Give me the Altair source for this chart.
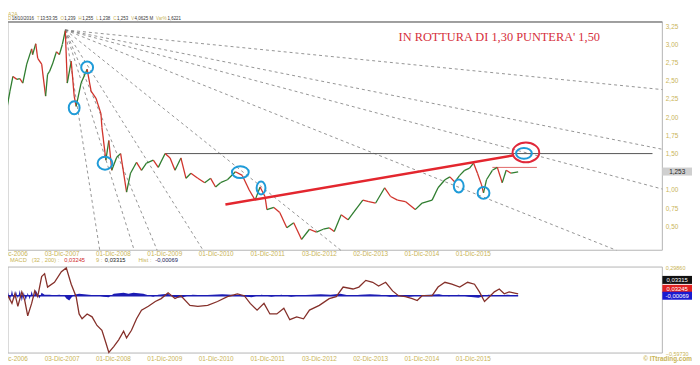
import altair as alt
import pandas as pd
from datetime import date, timedelta

# ---------------- data ----------------
price_dates = ["2006-10-13","2006-11-10","2006-12-01","2006-12-22","2007-01-19","2007-02-09","2007-03-02",
 "2007-03-30","2007-05-04","2007-05-11","2007-06-02","2007-06-16","2007-07-14","2007-08-11","2007-08-25",
 "2007-09-08","2007-09-29","2007-10-27","2007-11-17","2007-12-08","2007-12-29","2008-01-12","2008-02-09",
 "2008-03-01","2008-03-15","2008-04-19","2008-06-01","2008-06-29","2008-08-03","2008-09-07","2008-09-14",
 "2008-10-12","2008-11-02","2008-11-23","2008-12-28","2009-01-25","2009-03-08","2009-04-05","2009-05-18",
 "2009-06-22","2009-07-27","2009-09-14","2009-10-19","2009-12-07","2010-01-11","2010-02-15","2010-03-29",
 "2010-05-04","2010-06-08","2010-07-27","2010-09-14","2010-10-26","2010-11-30","2011-01-04","2011-02-22",
 "2011-04-20","2011-06-08","2011-07-27","2011-09-07","2011-10-12","2011-11-16","2011-11-30","2012-01-18",
 "2012-02-29","2012-04-19","2012-06-07","2012-08-02","2012-09-27","2012-11-15","2013-01-03","2013-02-14",
 "2013-03-22","2013-05-10","2013-06-28","2013-08-09","2013-10-11","2013-11-22","2014-01-10","2014-03-15",
 "2014-04-26","2014-06-14","2014-08-09","2014-10-18","2014-12-06","2015-02-15","2015-03-29","2015-05-17",
 "2015-06-21","2015-07-26","2015-08-30","2015-10-04","2015-11-08","2015-12-06","2016-01-03","2016-02-01",
 "2016-02-15","2016-03-07","2016-04-18","2016-05-23","2016-06-27","2016-07-25","2016-08-29","2016-10-18"]
price_vals = [2.14,2.13,2.36,2.56,2.52,2.53,2.47,
 2.73,2.94,2.86,3.01,2.81,2.73,2.29,2.59,
 2.63,2.73,2.90,2.86,3.00,3.19,2.47,2.77,
 2.29,2.15,2.47,2.66,2.36,2.26,2.05,1.86,
 1.41,1.68,1.27,1.45,1.50,0.97,1.23,1.38,
 1.27,1.37,1.41,1.31,1.50,1.44,1.27,1.44,
 1.16,1.23,1.16,1.10,1.16,1.04,1.10,1.14,
 1.25,1.20,1.00,0.86,1.04,0.91,0.73,0.76,
 0.69,0.48,0.55,0.32,0.46,0.42,0.46,0.48,
 0.43,0.66,0.59,0.70,0.86,0.84,0.82,1.03,
 0.91,0.86,0.84,0.73,0.82,0.86,1.03,1.14,
 1.18,1.11,1.20,1.27,1.30,1.37,1.23,1.07,
 0.96,1.14,1.27,1.31,1.10,1.27,1.23,1.25]

last_close = 1.253

# Gann fan from the 2007 top
fan_origin_date = "2007-12-29"
fan_origin_val = 3.20
fan_unit_slope = 0.001548          # price per day of the 1x1 line
fan_ratios = [8, 4, 3, 2, 1, 1/2, 1/3, 1/4, 1/8]

# annotation lines
trend_dates = ["2011-02-08", "2016-09-19"]
trend_vals = [0.80, 1.476]
level_dates = ["2009-12-07", "2019-05-30"]
level_val = 1.50
res_dates = ["2016-04-18", "2017-02-28"]
res_val = 1.31

# circled points
circle_dates = ["2008-03-01","2008-06-01","2008-10-06","2011-05-25","2011-10-19","2015-08-23","2016-02-15","2016-11-28"]
circle_vals = [2.13, 2.685, 1.367, 1.245, 1.027, 1.054, 0.959, 1.503]
red_circle_date = "2016-12-12"
red_circle_val = 1.516

# MACD (32,200) line
macd_dates = ["2006-11-17","2006-12-15","2007-01-05","2007-01-26","2007-02-23","2007-03-16","2007-04-06",
 "2007-05-04","2007-05-26","2007-06-16","2007-07-14","2007-08-04","2007-08-25","2007-10-13","2007-12-01",
 "2008-01-05","2008-02-09","2008-03-15","2008-04-05","2008-04-26","2008-06-01","2008-07-06","2008-08-10",
 "2008-09-14","2008-10-12","2008-11-02","2008-12-07","2009-01-11","2009-02-15","2009-03-08","2009-04-12",
 "2009-05-18","2009-06-22","2009-08-10","2009-09-28","2009-11-09","2009-12-28","2010-02-15","2010-03-29",
 "2010-06-01","2010-07-27","2010-10-05","2010-12-14","2011-02-22","2011-05-04","2011-06-22","2011-08-03",
 "2011-09-21","2011-11-09","2011-12-21","2012-02-08","2012-03-29","2012-05-10","2012-06-28","2012-08-16",
 "2012-09-27","2012-12-06","2013-02-14","2013-04-05","2013-05-24","2013-08-02","2013-09-13","2013-11-01",
 "2013-12-20","2014-01-31","2014-03-22","2014-05-10","2014-06-21","2014-08-09","2014-09-27","2014-11-01",
 "2014-12-06","2015-02-15","2015-03-29","2015-05-17","2015-07-05","2015-08-30","2015-10-25","2015-12-13",
 "2016-01-17","2016-02-22","2016-03-28","2016-05-02","2016-06-06","2016-07-11","2016-08-15","2016-10-18"]
macd_vals = [0.0,-0.08,0.02,-0.11,0.04,-0.05,-0.21,
 -0.08,0.05,-0.01,0.20,0.23,0.09,0.14,0.25,
 0.29,0.12,-0.01,-0.19,-0.24,-0.19,-0.22,-0.31,
 -0.36,-0.49,-0.59,-0.53,-0.46,-0.37,-0.44,-0.36,
 -0.24,-0.15,-0.11,-0.06,-0.03,0.03,-0.03,0.0,
 -0.10,-0.11,-0.10,-0.06,-0.01,0.02,0.0,-0.08,
 -0.15,-0.08,-0.19,-0.19,-0.13,-0.25,-0.22,-0.24,
 -0.15,-0.10,-0.03,-0.01,0.09,0.07,0.09,0.16,
 0.14,0.10,0.14,0.05,0.0,-0.01,-0.03,-0.05,
 0.0,0.0,0.09,0.14,0.12,0.09,0.14,0.12,
 0.04,-0.06,-0.01,0.04,0.07,0.02,0.04,0.02]

# MACD histogram
hist_dates = ["2006-11-17","2006-12-01","2006-12-15","2006-12-29","2007-01-12","2007-01-26","2007-02-09",
 "2007-02-23","2007-03-09","2007-03-23","2007-04-06","2007-04-20","2007-05-04","2007-05-18","2007-06-01",
 "2007-06-15","2007-06-29","2007-07-13","2007-08-04","2007-09-08","2007-10-13","2007-11-17","2007-12-22",
 "2008-01-05","2008-01-26","2008-02-09","2008-03-01","2008-04-05","2008-05-10","2008-06-14","2008-07-19",
 "2008-08-23","2008-09-27","2008-11-01","2008-12-07","2009-01-11","2009-02-15","2009-03-22","2009-04-26",
 "2009-05-31","2009-07-05","2009-08-09","2009-09-13","2009-10-18","2009-11-22","2009-12-27","2010-01-31",
 "2010-03-07","2010-04-11","2010-05-16","2010-06-20","2010-08-29","2010-11-07","2011-01-16","2011-03-27",
 "2011-06-05","2011-08-14","2011-10-23","2012-01-01","2012-03-11","2012-05-20","2012-07-29","2012-10-07",
 "2012-12-16","2013-02-24","2013-05-05","2013-07-14","2013-09-22","2013-12-01","2014-02-09","2014-04-20",
 "2014-06-29","2014-09-07","2014-11-16","2015-01-25","2015-04-05","2015-06-14","2015-08-23","2015-11-01",
 "2016-01-10","2016-03-20","2016-05-29","2016-08-07","2016-10-18"]
hist_vals = [0.04,-0.05,0.06,-0.04,0.05,-0.03,0.06,
 -0.06,0.04,-0.05,0.03,-0.04,0.05,-0.03,0.06,
 0.02,-0.03,0.03,0.01,0.01,0.005,0.01,0.0,
 -0.03,-0.05,-0.02,0.01,0.02,0.015,0.01,0.005,
 0.0,-0.01,-0.015,0.02,0.025,0.03,0.02,0.03,
 0.025,0.02,0.005,-0.01,0.01,0.015,0.02,-0.01,
 -0.02,-0.015,0.0,0.01,0.005,0.01,0.015,0.01,
 -0.005,-0.015,0.01,-0.01,0.01,-0.01,0.005,0.01,
 0.015,0.01,0.02,0.0,0.01,0.015,0.01,-0.01,
 -0.005,-0.01,0.005,0.01,0.015,-0.005,0.01,-0.01,
 -0.02,0.01,0.005,0.01,-0.001]

macd_last, signal_last, hist_last = 0.03245, 0.03315, -0.00069
macd_top, macd_bottom = 0.29860, -0.59730

x_tick_dates = [(2006,12,1),(2007,12,3),(2008,12,1),(2009,12,1),(2010,12,1),(2011,12,1),
                (2012,12,3),(2013,12,2),(2014,12,1),(2015,12,1)]
y_ticks = [0.50, 0.75, 1.00, 1.50, 1.75, 2.00, 2.25, 2.50, 2.75, 3.00, 3.25]

header_pairs = [("D","18/10/2016"),("T","13:53:35"),("O","1,239"),("H","1,255"),
                ("L","1,238"),("C","1,253"),("V","4,0625 M"),("Var%","1,6221")]

# ---------------- layout / style ----------------
W = 662
H = 335
H_MAIN = 231
MACD_TOP = 248
X_START, X_END = date(2006, 11, 17), date(2019, 8, 8)
Y_MIN, Y_MAX = 0.171, 3.31
YEL = "#c9b456"
FONT = "Liberation Sans"

tick_vals = [alt.DateTime(year=y, month=m, date=d, utc=True) for y, m, d in x_tick_dates]
lab_expr = "utcFormat(datum.value, '%d') + '-Dic-' + utcFormat(datum.value, '%Y')"
xscale = alt.Scale(type="utc",
                   domain=[alt.DateTime(year=X_START.year, month=X_START.month, date=X_START.day, utc=True),
                           alt.DateTime(year=X_END.year, month=X_END.month, date=X_END.day, utc=True)])
x_main_axis = alt.Axis(values=tick_vals, labelExpr=lab_expr,
                       orient="bottom", offset=H_MAIN - H, ticks=False, tickSize=0, domain=False, grid=False,
                       labelColor=YEL, labelFontSize=6.5, labelFont=FONT, labelPadding=0, labelOverlap=False,
                       labelFlush=False, title=None)
x_macd_axis = alt.Axis(values=tick_vals, labelExpr=lab_expr,
                       orient="bottom", ticks=False, tickSize=0, domain=False, grid=False,
                       labelColor=YEL, labelFontSize=6.5, labelFont=FONT, labelPadding=3, labelOverlap=False,
                       labelFlush=False, title=None)
yscale = alt.Scale(domain=[Y_MIN, Y_MAX], range=[H_MAIN, 0], zero=False, nice=False)
y_main_axis = alt.Axis(orient="right", values=y_ticks,
                       labelExpr="replace(format(datum.value, '.2f'), '.', ',')",
                       ticks=False, tickSize=0, domain=False, grid=False, labelColor=YEL,
                       labelFontSize=6.5, labelFont=FONT, labelPadding=3, labelOverlap=False, title=None)
mscale = alt.Scale(domain=[macd_bottom, macd_top], range=[H, MACD_TOP], zero=False, nice=False)
y_macd_axis = alt.Axis(orient="right", values=[macd_top, macd_bottom],
                       labelExpr="replace(format(datum.value, '.5f'), '.', ',')",
                       ticks=False, tickSize=0, domain=False, grid=False, labelColor=YEL,
                       labelFontSize=5.5, labelFont=FONT, labelPadding=3, labelOverlap=False, title=None)

dummy = pd.DataFrame({"a": [0]})


def txt(text, x, y, color, size=7, align="left", font=FONT, weight="normal"):
    return alt.Chart(dummy).mark_text(text=text, align=align, baseline="middle", color=color,
                                      fontSize=size, font=font, fontWeight=weight).encode(
        x=alt.value(x), y=alt.value(y))


def frame(y0, y1, color="#b4b4b4"):
    return alt.Chart(dummy).mark_rect(fillOpacity=0, stroke=color, strokeWidth=1).encode(
        x=alt.value(0), x2=alt.value(W), y=alt.value(y0), y2=alt.value(y1))


# approximate Arial advance widths (em) used to lay out the header line
CW = {**{c: 0.556 for c in "0123456789"}, "/": 0.278, ":": 0.278, ",": 0.278, " ": 0.278,
      "M": 0.833, "D": 0.722, "T": 0.611, "O": 0.778, "H": 0.722, "L": 0.556, "C": 0.722,
      "V": 0.667, "a": 0.556, "r": 0.333, "%": 0.889}
text_w = lambda s, fs: sum(CW.get(c, 0.6) for c in s) * fs

# ---------------- main panel ----------------
seg = pd.DataFrame({"d1": price_dates[:-1], "d2": price_dates[1:],
                    "v1": price_vals[:-1], "v2": price_vals[1:]})
seg["dir"] = ["up" if b >= a else "down" for a, b in zip(price_vals[:-1], price_vals[1:])]

o = date.fromisoformat(fan_origin_date)
days_right = (X_END - o).days
fan_rows = []
for r in fan_ratios:
    slope = r * fan_unit_slope
    d = int(min(days_right, (fan_origin_val - Y_MIN) / slope))
    fan_rows.append({"d1": fan_origin_date, "v1": fan_origin_val,
                     "d2": (o + timedelta(days=d)).isoformat(),
                     "v2": fan_origin_val - slope * d})
fan = pd.DataFrame(fan_rows)

X = lambda f: alt.X(f, type="temporal", scale=xscale, axis=x_main_axis)
Y = lambda f: alt.Y(f, type="quantitative", scale=yscale, axis=y_main_axis)

fan_layer = alt.Chart(fan).mark_rule(color="#7a7a7a", strokeWidth=0.8, strokeDash=[3, 3]).encode(
    x=X("d1"), x2="d2", y=Y("v1"), y2="v2")

level = alt.Chart(pd.DataFrame({"d1": [level_dates[0]], "d2": [level_dates[1]], "v": [level_val]})).mark_rule(
    color="#555555", strokeWidth=1).encode(x=X("d1"), x2="d2", y=Y("v"))

res = alt.Chart(pd.DataFrame({"d1": [res_dates[0]], "d2": [res_dates[1]], "v": [res_val]})).mark_rule(
    color="#d84040", strokeWidth=0.8).encode(x=X("d1"), x2="d2", y=Y("v"))

price = alt.Chart(seg).mark_rule(strokeWidth=1.3).encode(
    x=X("d1"), x2="d2", y=Y("v1"), y2="v2",
    color=alt.Color("dir:N", scale=alt.Scale(domain=["up", "down"], range=["#2f7d2f", "#d0342c"]), legend=None))

trend = alt.Chart(pd.DataFrame({"d1": [trend_dates[0]], "d2": [trend_dates[1]],
                                "v1": [trend_vals[0]], "v2": [trend_vals[1]]})).mark_rule(
    color="#e3262e", strokeWidth=2.5).encode(x=X("d1"), x2="d2", y=Y("v1"), y2="v2")

# ellipse sizes (px) for the hand-drawn circles
ell_w = [11, 12, 15, 17, 9, 10, 12, 16]
ell_h = [13, 12, 13, 12, 13, 13, 12, 11]


def ellipse_path(w, h):
    m = max(w, h)
    rx, ry = w / m, h / m
    return f"M{-rx:.3f},0A{rx:.3f},{ry:.3f} 0 1,0 {rx:.3f},0A{rx:.3f},{ry:.3f} 0 1,0 {-rx:.3f},0Z"


circ = pd.DataFrame({"date": circle_dates, "val": circle_vals,
                     "k": [f"e{i}" for i in range(len(circle_dates))],
                     "sz": [max(w, h) ** 2 for w, h in zip(ell_w, ell_h)]})
circles = alt.Chart(circ).mark_point(filled=False, strokeWidth=2, color="#1f9bd8", opacity=1).encode(
    x=X("date"), y=Y("val"),
    shape=alt.Shape("k:N", scale=alt.Scale(domain=list(circ["k"]),
                                           range=[ellipse_path(w, h) for w, h in zip(ell_w, ell_h)]), legend=None),
    size=alt.Size("sz:Q", scale=None))

red_circ = alt.Chart(pd.DataFrame({"date": [red_circle_date], "val": [red_circle_val]})).mark_point(
    filled=False, strokeWidth=2, color="#e0283a", opacity=1, shape=ellipse_path(27, 20), size=27 ** 2).encode(
    x=X("date"), y=Y("val"))

title = txt("IN ROTTURA DI 1,30 PUNTERA' 1,50", 497, 15, "#d6303c", size=12.5, align="center",
            font="Liberation Serif")

HF = 4.5
hdr = [txt("A2A", 0, -8.5, YEL, size=5.2)]
cx = 0.0
for p, v in header_pairs:
    hdr.append(txt(p, cx, -2.5, YEL, size=HF))
    cx += text_w(p, HF) + 0.5
    hdr.append(txt(v, cx, -2.5, "#333333", size=HF))
    cx += text_w(v, HF) + 3.0

box_path = "M-1,-0.27L1,-0.27L1,0.27L-1,0.27Z"
pbox = alt.Chart(dummy).mark_point(shape=box_path, size=900, filled=True, color="#cfcfcf", opacity=1).encode(
    x=alt.value(W + 15), y=alt.Y(datum=last_close, scale=yscale, axis=y_main_axis))
ptxt = alt.Chart(dummy).mark_text(text="1,253", fontSize=6.5, font=FONT, color="#222222").encode(
    x=alt.value(W + 15), y=alt.Y(datum=last_close, scale=yscale, axis=y_main_axis))

top_edge = alt.Chart(dummy).mark_rule(color="#8c8c8c", strokeWidth=1.5).encode(
    x=alt.value(0), x2=alt.value(W), y=alt.value(0))

main = alt.layer(frame(0, H_MAIN), top_edge, fan_layer, level, res, price, trend, circles, red_circ,
                 title, pbox, ptxt, *hdr)

# ---------------- MACD panel ----------------
XM = lambda f: alt.X(f, type="temporal", scale=xscale, axis=x_macd_axis)
YM = lambda f: alt.Y(f, type="quantitative", scale=mscale, axis=y_macd_axis)

hist = alt.Chart(pd.DataFrame({"date": hist_dates, "h": hist_vals})).mark_area(
    color="#1c1cb4", opacity=1).encode(x=XM("date"), y=YM("h"), y2=alt.Y2(datum=0))
zero = alt.Chart(pd.DataFrame({"d1": [hist_dates[0]], "d2": [hist_dates[-1]], "z": [0.0]})).mark_rule(
    color="#1c1cb4", strokeWidth=1.5).encode(x=XM("d1"), x2="d2", y=YM("z"))
macd_line = alt.Chart(pd.DataFrame({"date": macd_dates, "m": macd_vals})).mark_line(
    color="#85302a", strokeWidth=1.3).encode(x=XM("date"), y=YM("m"))

fmt = lambda v: f"{v:.5f}".replace(".", ",")
mh_y = MACD_TOP - 7
MF = 5.8
mhdr = [txt("MACD", 2, mh_y, YEL, size=MF), txt("(32 , 200) :", 24, mh_y, YEL, size=MF),
        txt(fmt(macd_last), 57, mh_y, "#d02a2a", size=MF), txt("9 :", 89, mh_y, YEL, size=MF),
        txt(fmt(signal_last), 98, mh_y, "#222222", size=MF), txt("Hist :", 132, mh_y, YEL, size=MF),
        txt(fmt(hist_last), 149, mh_y, "#22225a", size=MF)]

boxes = []
for v, by, bc in [(signal_last, MACD_TOP + 13, "#111111"), (macd_last, MACD_TOP + 22, "#e02222"),
                  (hist_last, MACD_TOP + 29, "#1a1ad0")]:
    boxes.append(alt.Chart(dummy).mark_point(shape=box_path, size=900, filled=True, color=bc, opacity=1).encode(
        x=alt.value(W + 15), y=alt.value(by)))
    boxes.append(txt(fmt(v), W + 15, by, "#ffffff", size=6, align="center"))

copy = txt("© ITtrading.com", W + 30, H + 6, YEL, size=6.5, align="right", weight="bold")

macd = alt.layer(frame(MACD_TOP, H), hist, zero, macd_line, *mhdr, *boxes, copy)

chart = alt.layer(main, macd).resolve_scale(x="independent", y="independent").properties(
    width=W, height=H,
    autosize=alt.AutoSizeParams(type="none"),
    padding={"top": 12, "left": 0, "right": 30, "bottom": 10},
).configure_view(stroke=None)

chart.save("out.html", embed_options={"renderer": "svg", "actions": False})
